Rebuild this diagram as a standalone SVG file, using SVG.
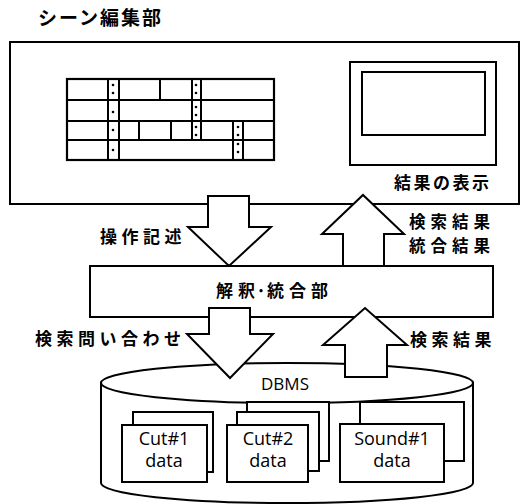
<svg xmlns="http://www.w3.org/2000/svg" width="522" height="504" viewBox="0 0 522 504">
<style>
.box{fill:#fff;stroke:#000;stroke-width:2}
.ln{fill:none;stroke:#000;stroke-width:2}
.grid{fill:#fff;stroke:#000;stroke-width:2.2}
.dot{fill:#000}
.jp{font-family:"Noto Sans CJK JP","Noto Sans CJK SC",sans-serif;font-weight:bold;fill:#000}
.en{font-family:"Open Sans","Noto Sans",sans-serif;fill:#000}
.arrow{fill:#fff;stroke:#000;stroke-width:2;stroke-linejoin:miter}
</style>
<text class="jp" x="38" y="25" font-size="19" letter-spacing="2">シーン編集部</text>
<g id="scene-editor">
<rect class="box" x="10" y="42" width="509" height="162"/>
<g id="timeline">
<rect class="grid" x="67" y="79" width="207" height="81"/>
<path class="ln" d="M67,100H274M67,121H274M67,140H274"/>
<path class="ln" d="M108,79V160M119,79V160M192,79V140M201,79V140M233,121V160M243,121V160"/>
<path class="ln" d="M160,79V100M139,121V140M171,121V140"/>
<g class="dot">
<circle cx="113" cy="85" r="1.3"/><circle cx="113" cy="93" r="1.3"/>
<circle cx="113" cy="112" r="1.3"/>
<circle cx="113" cy="130" r="1.3"/>
<circle cx="113" cy="150" r="1.3"/>
<circle cx="196" cy="85" r="1.3"/><circle cx="196" cy="93" r="1.3"/>
<circle cx="196" cy="107" r="1.3"/><circle cx="196" cy="115" r="1.3"/>
<circle cx="196" cy="127" r="1.3"/><circle cx="196" cy="135" r="1.3"/>
<circle cx="238" cy="127" r="1.3"/><circle cx="238" cy="135" r="1.3"/>
<circle cx="238" cy="144" r="1.3"/><circle cx="238" cy="152" r="1.3"/>
</g>
</g>
<g id="monitor">
<rect class="box" x="350" y="62" width="146" height="103"/>
<rect class="box" x="362" y="72" width="123" height="63"/>
</g>
<text class="jp" x="394" y="189" font-size="17" letter-spacing="2.5">結果の表示</text>
</g>
<g id="interpreter">
<rect class="box" x="90" y="266" width="403" height="51"/>
<text class="jp" x="216" y="297" font-size="17" letter-spacing="5">解<tspan letter-spacing="0">釈</tspan><tspan letter-spacing="0" dx="1">·</tspan><tspan dx="1">統合部</tspan></text>
</g>
<g id="dbms">
<path class="box" d="M101,383V483A186,20 0 0 0 473,483V383Z"/>
<ellipse class="box" cx="287" cy="383" rx="186" ry="20"/>
<text class="en" x="285" y="390" font-size="17" text-anchor="middle">DBMS</text>
</g>
<g id="cut1">
<rect class="box" x="133" y="412" width="80" height="60"/>
<rect class="box" x="122" y="425" width="85" height="57"/>
<text class="en" x="164" y="445" font-size="18" text-anchor="middle">Cut#1</text>
<text class="en" x="164" y="467" font-size="18" text-anchor="middle">data</text>
</g>
<g id="cut2">
<rect class="box" x="247" y="402" width="82" height="59"/>
<rect class="box" x="237" y="412" width="82" height="59"/>
<rect class="box" x="227" y="425" width="81" height="57"/>
<text class="en" x="268" y="445" font-size="18" text-anchor="middle">Cut#2</text>
<text class="en" x="268" y="467" font-size="18" text-anchor="middle">data</text>
</g>
<g id="sound1">
<rect class="box" x="360" y="402" width="104" height="59"/>
<rect class="box" x="340" y="424" width="104" height="58"/>
<text class="en" x="392" y="445" font-size="18" text-anchor="middle">Sound#1</text>
<text class="en" x="392" y="467" font-size="18" text-anchor="middle">data</text>
</g>
<g id="connectors">
<polygon class="arrow" points="208,196 249,196 249,227 271,227 229,266 188,227 208,227"/>
<polygon class="arrow" points="343,266 343,234 322,234 363,195 404,234 384,234 384,266"/>
<polygon class="arrow" points="209,308 250,308 250,334 273,334 230,378 187,334 209,334"/>
<polygon class="arrow" points="345,377 345,345 323,345 365,308 407,345 387,345 387,377"/>
<text class="jp" x="100" y="243" font-size="17" letter-spacing="4.5">操作記述</text>
<text class="jp" x="409" y="228" font-size="16.5" letter-spacing="5">検索結果</text>
<text class="jp" x="409" y="252" font-size="16.5" letter-spacing="5">統合結果</text>
<text class="jp" x="35" y="345" font-size="17" letter-spacing="4.5">検索問い合わせ</text>
<text class="jp" x="410" y="346" font-size="17" letter-spacing="4.5">検索結果</text>
</g>
</svg>
